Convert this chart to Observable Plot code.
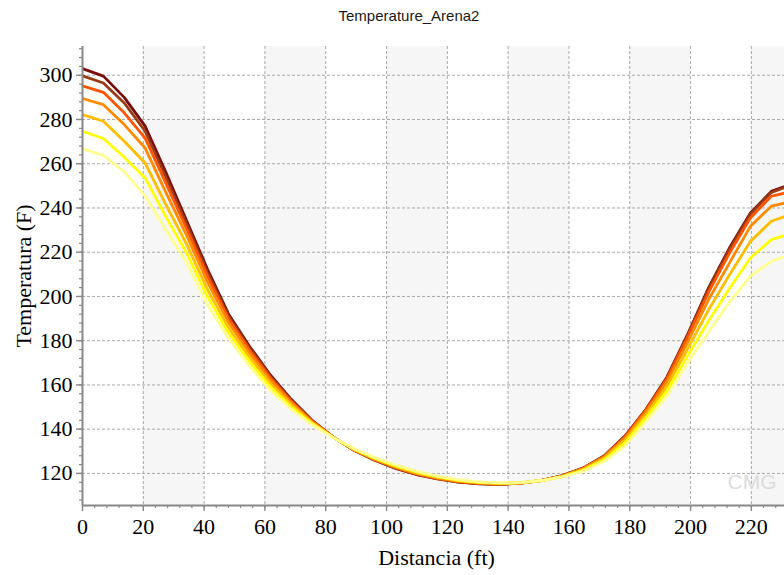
<!DOCTYPE html>
<html><head><meta charset="utf-8">
<script src="https://cdn.jsdelivr.net/npm/d3@7"></script>
<script src="https://cdn.jsdelivr.net/npm/@observablehq/plot@0.6"></script>
<style>
body{margin:0;background:#fff;}
#title{height:30px;width:784px;text-align:center;font:15px "Liberation Sans",Arial,sans-serif;color:#1a1a1a;line-height:18px;padding-top:7px;box-sizing:border-box;padding-left:34px;}
</style></head><body>
<div id="title">Temperature_Arena2</div>
<div id="chart"></div>
<script>
const distance = [0, 6.87, 13.73, 20.6, 27.46, 34.33, 41.19, 48.06, 54.92, 61.79, 68.65, 75.52, 82.38, 89.25, 96.11, 102.98, 109.84, 116.71, 123.57, 130.44, 137.3, 144.17, 151.03, 157.9, 164.76, 171.63, 178.49, 185.36, 192.22, 199.09, 205.95, 212.82, 219.68, 226.55, 233.41];
const s1 = [303, 299.6, 290, 277, 256, 234, 212, 192, 177.5, 164.5, 153.5, 144, 136.5, 130.5, 126, 122.3, 119.5, 117.5, 116.1, 115.3, 115.1, 115.6, 116.9, 119, 122.5, 128, 137, 149, 163.5, 183, 204, 222, 237.7, 247.5, 251];
const s2 = [299.7, 296.5, 287.5, 274.7, 253.9, 232.5, 210.7, 191.1, 176.8, 163.9, 153.1, 143.8, 136.5, 130.6, 126.1, 122.4, 119.6, 117.6, 116.2, 115.4, 115.1, 115.6, 116.9, 119, 122.4, 127.9, 136.9, 148.8, 163.2, 182.6, 203.4, 221.4, 237.2, 247, 250.5];
const s3 = [295.2, 292.3, 283.0, 271.6, 251.1, 230.4, 209, 189.9, 175.8, 163.2, 152.6, 143.6, 136.5, 130.6, 126.2, 122.6, 119.8, 117.7, 116.3, 115.5, 115.2, 115.6, 116.8, 118.9, 122.3, 127.8, 136.6, 148.6, 162.7, 181.7, 202, 219.6, 235.5, 245.3, 247.5];
const s4 = [289.5, 286.7, 277.7, 267.1, 246.9, 227.4, 206.4, 188.2, 174.3, 162.1, 151.9, 143.3, 136.4, 130.7, 126.4, 122.8, 120, 118, 116.5, 115.6, 115.3, 115.7, 116.8, 118.8, 122.2, 127.4, 136, 147.8, 161.3, 179.5, 198.6, 215.2, 231.7, 240.8, 243];
const s5 = [282.2, 279.2, 270.2, 260.3, 241.4, 223.4, 203, 185.8, 172.5, 160.6, 151, 142.9, 136.4, 130.9, 126.7, 123.1, 120.3, 118.2, 116.7, 115.8, 115.4, 115.7, 116.8, 118.7, 121.8, 126.9, 135.1, 146.6, 159.3, 176.5, 194, 209.8, 224.9, 234, 237.3];
const s6 = [274.7, 271.4, 262.9, 253.6, 236, 219.4, 199.7, 183.5, 170.6, 159.1, 150, 142.5, 136.3, 131.0, 126.9, 123.5, 120.7, 118.5, 116.9, 116, 115.6, 115.8, 116.8, 118.6, 121.4, 126.2, 133.9, 145.2, 157.2, 173.3, 189, 203.6, 217.4, 225.7, 228.6];
const s7 = [266.7, 263.8, 256.3, 245.5, 230, 215, 196, 181, 168.5, 157.5, 149, 142, 136.3, 131.2, 127.2, 123.8, 121, 118.8, 117.2, 116.2, 115.7, 115.8, 116.8, 118.5, 121, 125.5, 132.5, 143.5, 155, 170, 184, 197.5, 209.1, 215.9, 219.2];
const seriesNames = ["T1", "T2", "T3", "T4", "T5", "T6", "T7"];
const seriesColors = ["#7a0c0c", "#9a3b16", "#ff5500", "#ff8a00", "#ffbe00", "#ffff00", "#ffff90"];
const xTicks = [0, 20, 40, 60, 80, 100, 120, 140, 160, 180, 200, 220];
const yTicks = [120, 140, 160, 180, 200, 220, 240, 260, 280, 300];
const xMinor = [0,4,8,12,16,20,24,28,32,36,40,44,48,52,56,60,64,68,72,76,80,84,88,92,96,100,104,108,112,116,120,124,128,132,136,140,144,148,152,156,160,164,168,172,176,180,184,188,192,196,200,204,208,212,216,220,224,228];
const yMinor = [108,112,116,120,124,128,132,136,140,144,148,152,156,160,164,168,172,176,180,184,188,192,196,200,204,208,212,216,220,224,228,232,236,240,244,248,252,256,260,264,268,272,276,280,284,288,292,296,300,304,308,312];
const bandStart = [20, 60, 100, 140, 180, 220];
const bandEnd = [40, 80, 120, 160, 200, 240];
const xLabel = "Distancia (ft)";
const yLabel = "Temperatura (F)";

const allSeries = [s1, s2, s3, s4, s5, s6, s7];
const rows = [];
allSeries.forEach((s, k) => s.forEach((v, i) => rows.push({series: seriesNames[k], dist: distance[i], temp: v})));
const bands = bandStart.map((b, i) => ({x1: b, x2: bandEnd[i]}));

const serif = '"Liberation Serif", "Times New Roman", serif';
const chart = Plot.plot({
  width: 784, height: 545,
  marginLeft: 82, marginRight: 0, marginTop: 16, marginBottom: 70,
  x: {domain: [0, 230.9], label: null},
  y: {domain: [105.5, 313], label: null},
  color: {domain: seriesNames, range: seriesColors},
  style: {background: "#fff", fontFamily: serif, color: "#000", overflow: "visible"},
  marks: [
    Plot.barX(bands, {x1: "x1", x2: "x2", fill: "#f6f6f6", clip: true}),
    Plot.gridX(xTicks.slice(1), {stroke: "#a8a8a8", strokeOpacity: 1, strokeDasharray: "3,2"}),
    Plot.gridY(yTicks, {stroke: "#a8a8a8", strokeOpacity: 1, strokeDasharray: "3,2"}),
    Plot.text(["CMG"], {frameAnchor: "bottom-right", textAnchor: "end", lineAnchor: "bottom", dx: -8, dy: -17, fontSize: 21, fill: "#dcdcdc", fontFamily: '"Liberation Sans", Arial, sans-serif'}),
    Plot.line(rows, {x: "dist", y: "temp", z: "series", stroke: "series", strokeWidth: 2.8, clip: true}),
    Plot.ruleX([0], {stroke: "#888", strokeWidth: 2}),
    Plot.ruleY([105.5], {stroke: "#888", strokeWidth: 2}),
    Plot.axisX(xMinor, {tickSize: 3, tickFormat: () => "", stroke: "#888", strokeWidth: 1.2, label: null}),
    Plot.axisY(yMinor, {tickSize: 3, tickFormat: () => "", stroke: "#888", strokeWidth: 1.2, label: null}),
    Plot.axisX(xTicks, {tickSize: 6, tickPadding: 7, fontSize: 22, stroke: "#888", strokeWidth: 1.4, label: null}),
    Plot.axisY(yTicks, {tickSize: 6, tickPadding: 4, fontSize: 22, stroke: "#888", strokeWidth: 1.4, label: null}),
    Plot.text([yLabel], {frameAnchor: "left", dx: -59, rotate: -90, textAnchor: "middle", lineAnchor: "middle", fontSize: 22}),
    Plot.text([xLabel], {frameAnchor: "bottom", dx: 3, dy: 52, textAnchor: "middle", lineAnchor: "middle", fontSize: 22})
  ]
});
document.getElementById("chart").appendChild(chart);
</script>
</body></html>
